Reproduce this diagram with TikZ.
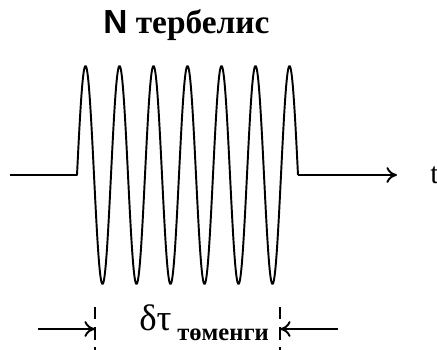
\documentclass[tikz,border=0pt]{standalone}
\usepackage{fontspec}
\newfontfamily\serifcyr{Liberation Serif}
\newfontfamily\sanslat{Liberation Sans}
\usetikzlibrary{arrows.meta, positioning}

\begin{document}
\begin{tikzpicture}[
          x=0.02cm, y=-0.02cm,
          wave/.style={line width=1.1pt, line join=round},
          axis/.style={line width=1.1pt, -{To[length=6pt, width=9pt, line width=1.1pt]}},
          marker/.style={line width=1pt, dash pattern=on 7pt off 4.5pt},
          label/.style={inner sep=0pt, font=\serifcyr\fontsize{17}{20}\selectfont}
        ]
          \useasboundingbox (0,0) rectangle (437,349);
          % title
          \node[label, anchor=base west, font=\serifcyr\bfseries\fontsize{19}{22}\selectfont] (count) at (103,33) {{\sanslat N} тербелис};
          % signal
          \coordinate (lead) at (10,175);
          \coordinate (on) at (77,175);
          \coordinate (off) at (298,175);
          \coordinate (tip) at (397,175);
          \draw[wave] (lead) -- (on) -- plot[domain=0:221, samples=443, smooth] ({77+\x},{175-109*sin((\x/34)*360)}) -- (off);
          \draw[axis] (off) -- (tip);
          \node[label, anchor=base west] (time) at (430,183) {t};
          % duration
          \coordinate (lmark) at (95,307);
          \coordinate (lmarkend) at (95,352);
          \coordinate (rmark) at (280,307);
          \coordinate (rmarkend) at (280,352);
          \draw[marker] (lmark) -- (lmarkend);
          \draw[marker] (rmark) -- (rmarkend);
          \coordinate (lfar) at (38,329);
          \coordinate (rfar) at (338,329);
          \draw[axis] (lfar) -- (lmark |- lfar);
          \draw[axis] (rfar) -- (rmark |- rfar);
          \node[label, anchor=base west, font=\serifcyr\fontsize{21}{24}\selectfont] (delta) at (139,330) {δτ};
          \node[label, anchor=base west, font=\serifcyr\bfseries\fontsize{14}{16}\selectfont] (sub) at (177,340) {төменги};
        \end{tikzpicture}
\end{document}
